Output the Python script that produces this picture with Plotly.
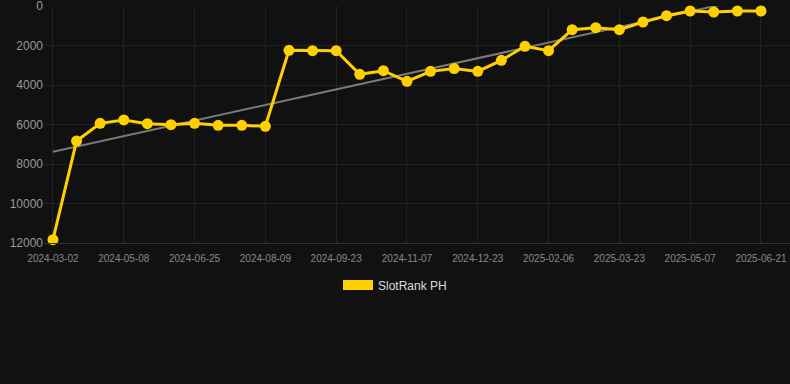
import numpy as np
import plotly.graph_objects as go

dates = [
    "2024-03-02", "2024-03-24", "2024-04-16",
    "2024-05-08", "2024-05-24", "2024-06-09",
    "2024-06-25", "2024-07-10", "2024-07-25",
    "2024-08-09", "2024-08-24", "2024-09-08",
    "2024-09-23", "2024-10-08", "2024-10-23",
    "2024-11-07", "2024-11-22", "2024-12-08",
    "2024-12-23", "2025-01-07", "2025-01-22",
    "2025-02-06", "2025-02-21", "2025-03-08",
    "2025-03-23", "2025-04-07", "2025-04-22",
    "2025-05-07", "2025-05-22", "2025-06-06",
    "2025-06-21",
]
ranks = [
    11830, 6835, 5940, 5770, 5960, 6010, 5940, 6040, 6040, 6090,
    2245, 2260, 2260, 3460, 3275, 3815, 3310, 3170, 3310, 2750,
    2040, 2260, 1200, 1100, 1200, 810, 490, 253, 304, 253,
    253,
]
series_name = "SlotRank PH"
y_ticks = [0, 2000, 4000, 6000, 8000, 10000, 12000]

idx = np.arange(len(ranks))
slope, intercept = np.polyfit(idx, ranks, 1)
trend = [intercept, intercept + slope * idx[-1]]

YELLOW = "#FFD000"

fig = go.Figure()
fig.add_trace(go.Scatter(
    x=[dates[0], dates[-1]], y=trend, mode="lines",
    line=dict(color="#7a7a7a", width=2), showlegend=False, hoverinfo="skip",
))
fig.add_trace(go.Scatter(
    x=dates, y=ranks, mode="lines+markers",
    line=dict(color=YELLOW, width=3),
    marker=dict(color=YELLOW, size=11),
    showlegend=False, name=series_name, cliponaxis=False,
))
fig.add_trace(go.Scatter(
    x=[None], y=[None], mode="lines",
    line=dict(color=YELLOW, width=11),
    name=series_name, showlegend=True,
))

fig.update_layout(
    width=790, height=384,
    paper_bgcolor="#111111", plot_bgcolor="#111111",
    margin=dict(l=44, r=0, t=6, b=141),
    font=dict(family="Liberation Sans, Arial, sans-serif"),
    legend=dict(
        orientation="h", xref="container", x=0.5, xanchor="center",
        yref="container", y=1 - 285 / 384, yanchor="middle",
        font=dict(color="#dddddd", size=12),
        bgcolor="rgba(0,0,0,0)",
    ),
    xaxis=dict(
        type="category",
        categoryorder="array", categoryarray=dates,
        range=[-0.38, 31.23],
        tickvals=dates[::3], ticktext=dates[::3],
        tickfont=dict(color="#888888", size=10),
        ticklabelstandoff=6,
        showgrid=True, gridcolor="#222222", gridwidth=1,
        showline=True, linecolor="#333333", linewidth=1,
        zeroline=False, ticks="",
    ),
    yaxis=dict(
        range=[12000, 0],
        tickvals=y_ticks, ticktext=[str(v) for v in y_ticks],
        tickfont=dict(color="#999999", size=12),
        ticklabeloverflow="allow",
        showgrid=True, gridcolor="#222222", gridwidth=1,
        zeroline=False, showline=False, ticks="",
    ),
)

fig.write_html(
    "out.html",
    config={"displayModeBar": False},
    post_script="document.body.style.margin='0';document.body.style.background='#111111';",
)
